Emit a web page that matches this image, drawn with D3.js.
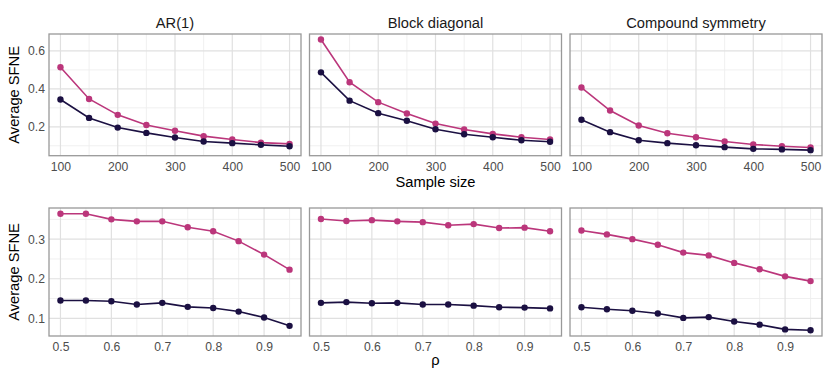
<!DOCTYPE html>
<html>
<head>
<meta charset="utf-8">
<script src="https://cdn.jsdelivr.net/npm/d3@7"></script>
<style>
body{margin:0;background:#fff;}
text{font-family:"Liberation Sans",Arial,sans-serif;}
.tick text{fill:#4d4d4d;font-size:12.2px;}
</style>
</head>
<body>
<svg id="chart"></svg>
<script>
var w=830;
var h=380;
var margin={left:49,right:8,top:34,bottom:44};
var gap=8.5;

// categories
var panelTitles=["AR(1)","Block diagonal","Compound symmetry"];
var sampleSize=[100,150,200,250,300,350,400,450,500];
var rho=[0.5,0.55,0.6,0.65,0.7,0.75,0.8,0.85,0.9,0.95];

// tick labels
var nTicks=[100,200,300,400,500];
var rhoTicks=[0.5,0.6,0.7,0.8,0.9];
var topYTicks=[0.2,0.4,0.6];
var bottomYTicks=[0.1,0.2,0.3];

// average SFNE by sample size (dark series / pink series)
var ar1N_dark=[0.344,0.247,0.196,0.168,0.144,0.123,0.114,0.105,0.098];
var ar1N_pink=[0.514,0.347,0.263,0.210,0.179,0.151,0.133,0.117,0.110];
var blockN_dark=[0.487,0.338,0.272,0.232,0.187,0.161,0.145,0.129,0.121];
var blockN_pink=[0.660,0.435,0.330,0.270,0.217,0.186,0.163,0.145,0.133];
var csN_dark=[0.237,0.172,0.129,0.114,0.103,0.093,0.084,0.081,0.077];
var csN_pink=[0.407,0.286,0.207,0.166,0.145,0.123,0.107,0.098,0.091];

// average SFNE by rho
var ar1Rho_dark=[0.145,0.145,0.143,0.135,0.139,0.129,0.126,0.117,0.102,0.081];
var ar1Rho_pink=[0.364,0.364,0.350,0.345,0.345,0.330,0.320,0.295,0.261,0.223];
var blockRho_dark=[0.139,0.141,0.138,0.139,0.135,0.135,0.132,0.128,0.127,0.125];
var blockRho_pink=[0.351,0.346,0.348,0.345,0.343,0.335,0.338,0.328,0.329,0.320];
var csRho_dark=[0.128,0.123,0.119,0.112,0.101,0.103,0.092,0.084,0.072,0.070];
var csRho_pink=[0.322,0.312,0.300,0.286,0.266,0.259,0.240,0.224,0.206,0.194];

var darkColor="#1b1042";
var pinkColor="#bb367b";

var rows=[
  {x:sampleSize,xTicks:nTicks,yTicks:topYTicks,top:34,bottom:155.7,
   dark:[ar1N_dark,blockN_dark,csN_dark],pink:[ar1N_pink,blockN_pink,csN_pink],
   xTitle:"Sample size",xTitleY:187,titles:true},
  {x:rho,xTicks:rhoTicks,yTicks:bottomYTicks,top:208,bottom:336,
   dark:[ar1Rho_dark,blockRho_dark,csRho_dark],pink:[ar1Rho_pink,blockRho_pink,csRho_pink],
   xTitle:"\u03c1",xTitleY:365,titles:false}
];

var svg=d3.select("#chart")
          .attr("width",w)
          .attr("height",h);

var pw=(w-margin.left-margin.right-2*gap)/3;

function expand(ext){
  var d=ext[1]-ext[0];
  return [ext[0]-0.05*d,ext[1]+0.05*d];
}
function minorTicks(major,dom){
  var step=major[1]-major[0];
  var out=[];
  var m=major[0]-step/2;
  while(m<=dom[1]+1e-9){
    if(m>=dom[0]-1e-9 && major.indexOf(+m.toFixed(6))<0) out.push(m);
    m+=step;
  }
  return out;
}

rows.forEach(function(row,r){
  var allY=d3.merge(row.dark.concat(row.pink));
  var yScale=d3.scaleLinear()
               .domain(expand(d3.extent(allY)))
               .range([row.bottom,row.top]);
  var yMinor=minorTicks(row.yTicks,yScale.domain());

  for(var p=0;p<3;p++){
    var x0=margin.left+p*(pw+gap);
    var xScale=d3.scaleLinear()
                 .domain(expand(d3.extent(row.x)))
                 .range([x0,x0+pw]);
    var xMinor=minorTicks(row.xTicks,xScale.domain());
    var g=svg.append("g");

    // grid
    g.selectAll("line.ymin").data(yMinor).enter().append("line")
     .attr("x1",x0).attr("x2",x0+pw)
     .attr("y1",function(d){return yScale(d);}).attr("y2",function(d){return yScale(d);})
     .attr("stroke","#eeeeee").attr("stroke-width",0.9);
    g.selectAll("line.xmin").data(xMinor).enter().append("line")
     .attr("y1",row.top).attr("y2",row.bottom)
     .attr("x1",function(d){return xScale(d);}).attr("x2",function(d){return xScale(d);})
     .attr("stroke","#eeeeee").attr("stroke-width",0.9);
    g.selectAll("line.ymaj").data(row.yTicks).enter().append("line")
     .attr("x1",x0).attr("x2",x0+pw)
     .attr("y1",function(d){return yScale(d);}).attr("y2",function(d){return yScale(d);})
     .attr("stroke","#e0e0e0").attr("stroke-width",1.2);
    g.selectAll("line.xmaj").data(row.xTicks).enter().append("line")
     .attr("y1",row.top).attr("y2",row.bottom)
     .attr("x1",function(d){return xScale(d);}).attr("x2",function(d){return xScale(d);})
     .attr("stroke","#e0e0e0").attr("stroke-width",1.2);

    var series=[
      {vals:row.pink[p],color:pinkColor},
      {vals:row.dark[p],color:darkColor}
    ];
    var line=d3.line()
               .x(function(d,i){return xScale(row.x[i]);})
               .y(function(d){return yScale(d);});
    series.forEach(function(s){
      g.append("path")
       .datum(s.vals)
       .attr("d",line)
       .attr("fill","none")
       .attr("stroke",s.color)
       .attr("stroke-width",1.6);
    });
    series.forEach(function(s){
      g.selectAll(null).data(s.vals).enter().append("circle")
       .attr("cx",function(d,i){return xScale(row.x[i]);})
       .attr("cy",function(d){return yScale(d);})
       .attr("r",3.2)
       .attr("fill",s.color);
    });

    // border
    g.append("rect")
     .attr("x",x0).attr("y",row.top)
     .attr("width",pw).attr("height",row.bottom-row.top)
     .attr("fill","none").attr("stroke","#999999").attr("stroke-width",1.3);

    var xAxis=d3.axisBottom(xScale)
                .tickValues(row.xTicks)
                .tickSize(0)
                .tickPadding(6.5)
                .tickFormat(function(d){return String(d);});
    var ax=g.append("g")
            .attr("transform","translate(0,"+row.bottom+")")
            .call(xAxis);
    ax.select(".domain").remove();
    ax.selectAll("text").attr("font-family",null);

    if(p==0){
      var yAxis=d3.axisLeft(yScale)
                  .tickValues(row.yTicks)
                  .tickSize(0)
                  .tickPadding(4)
                  .tickFormat(function(d){return String(d);});
      var ay=g.append("g")
              .attr("transform","translate("+x0+",0)")
              .call(yAxis);
      ay.select(".domain").remove();
      ay.selectAll("text").attr("font-family",null);
    }

    if(row.titles){
      svg.append("text")
         .attr("x",x0+pw/2)
         .attr("y",27.5)
         .attr("text-anchor","middle")
         .attr("font-size","14.7px")
         .attr("fill","#1a1a1a")
         .text(panelTitles[p]);
    }
  }

  svg.append("text")
     .attr("x",(margin.left+w-margin.right)/2)
     .attr("y",row.xTitleY)
     .attr("text-anchor","middle")
     .attr("font-size","14.7px")
     .attr("fill","#000")
     .text(row.xTitle);

  svg.append("text")
     .attr("transform","translate(18.5,"+((row.top+row.bottom)/2)+") rotate(-90)")
     .attr("text-anchor","middle")
     .attr("font-size","14.7px")
     .attr("fill","#000")
     .text("Average SFNE");
});
</script>
</body>
</html>
